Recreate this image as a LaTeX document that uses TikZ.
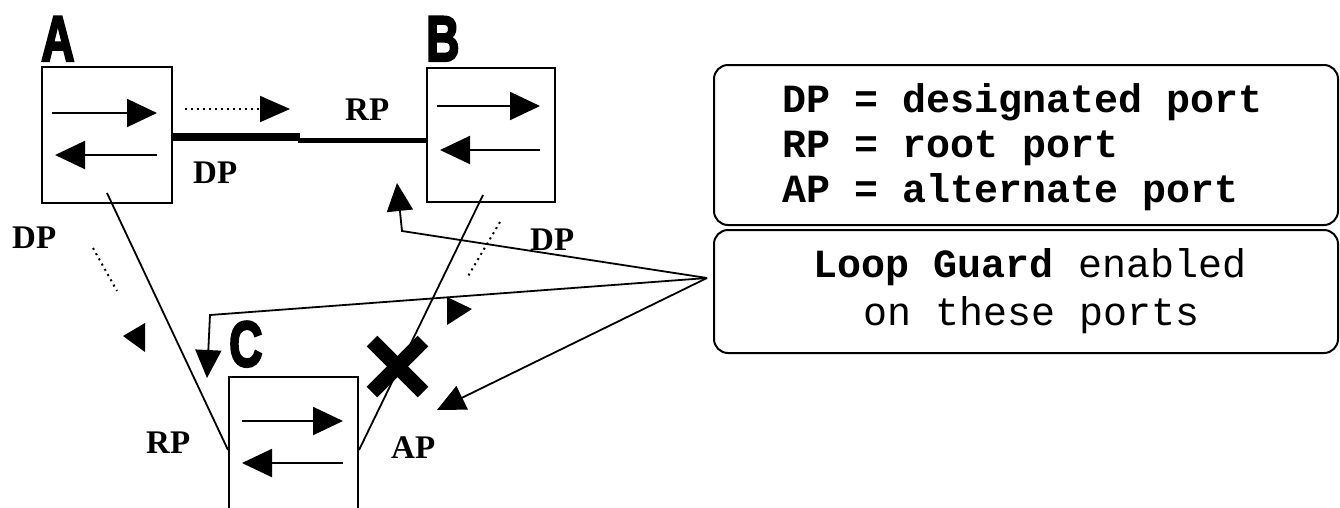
\documentclass[tikz,border=0pt]{standalone}
\usepackage{fontspec}
\setmainfont{Liberation Serif}
\newfontfamily\legmono{Liberation Mono}
\newfontface\bigletter{Liberation Sans Bold}[FakeBold=4]
\usetikzlibrary{arrows.meta,calc}
\tikzset{
  swbox/.style={draw, line width=2pt, inner sep=0pt},
  inarrow/.style={line width=2pt, -{Triangle[length=30pt,width=28pt]}},
  conn/.style={line width=1.8pt},
  conntip/.style={line width=1.8pt, -{Triangle[length=28pt,width=26pt]}},
  dotline/.style={line width=2pt, dash pattern=on 2pt off 4pt},
  portlbl/.style={font=\bfseries\fontsize{33}{33}\selectfont, inner sep=0pt, anchor=base west},
  swlbl/.style={font=\bigletter\fontsize{64}{64}\selectfont, inner sep=0pt, anchor=south west},
  legbox/.style={draw, line width=2pt, rounded corners=14pt},
  legtext/.style={font=\legmono\bfseries\fontsize{40}{40}\selectfont, inner sep=0pt},
  xmark/.style={line width=15pt, line cap=butt}
}
\begin{document}
\begin{tikzpicture}[x=1pt,y=-1pt]
\useasboundingbox (0,0) rectangle (1340,507);
\clip (0,0) rectangle (1340,507);
\fill[white] (0,0) rectangle (1340,507);

% switches
\node[swbox, minimum width=130pt, minimum height=136pt] (A) at (107,135) {};
\node[swbox, minimum width=128pt, minimum height=134pt] (B) at (491,135) {};
\node[swbox, minimum width=129pt, minimum height=156pt] (C) at (293.5,455) {};

\node[swlbl] (lA) at (41,61) {\scalebox{0.72}[1]{A}};
\node[swlbl] (lB) at (426,61) {\scalebox{0.72}[1]{B}};
\node[swlbl] (lC) at (229,367) {\scalebox{0.72}[1]{C}};

% arrows inside switches
\draw[inarrow] (52,113) -- (157,113);
\draw[inarrow] (157,155) -- (55,155);
\draw[inarrow] (437,106) -- (540,106);
\draw[inarrow] (540,150) -- (440,150);
\draw[inarrow] (242,421) -- (343,421);
\draw[inarrow] (343,463) -- (242,463);

% named port points
\coordinate (aE) at ($(A.east)+(0,2)$);
\coordinate (mid1) at (300,137);
\coordinate (mid2) at (298,140);
\coordinate (bW) at ($(B.west)+(0,5)$);
\coordinate (aS) at (107,193);
\coordinate (cW) at ($(C.west)+(0,-5)$);
\coordinate (bS) at (483,195);
\coordinate (cE) at ($(C.east)+(0,-5)$);

% links
\draw[line width=8pt] (aE) -- (mid1);
\draw[line width=5pt] (mid2) -- (bW);
\draw[conn] (aS) -- (cW);
\draw[conn] (bS) -- (cE);

% big X on the blocked link
\coordinate (x1) at (372,341);
\coordinate (x2) at (423,392);
\coordinate (x3) at (423,341);
\coordinate (x4) at (372,392);
\draw[xmark] (x1) -- (x2);
\draw[xmark] (x3) -- (x4);

% dotted BPDU arrows
\coordinate (d1s) at (185,109);
\coordinate (d1e) at (290,109);
\draw[dotline, -{Triangle[length=30pt,width=26pt]}] (d1s) -- (d1e);
\coordinate (d2s) at (93,248);
\coordinate (d2e) at (117,291);
\draw[dotline] (d2s) -- (d2e);
\fill (123,336) -- (145,323) -- (145,352) -- cycle;
\coordinate (d3s) at (500,222);
\coordinate (d3e) at (467,278);
\draw[dotline] (d3s) -- (d3e);
\fill (447,297) -- (472,309) -- (447,325) -- cycle;

% port labels
\node[portlbl] (p1) at (193,183) {DP};
\node[portlbl] (p2) at (345,120) {RP};
\node[portlbl] (p3) at (12,248) {DP};
\node[portlbl] (p4) at (530,250) {DP};
\node[portlbl] (p5) at (146,453) {RP};
\node[portlbl] (p6) at (391,458) {AP};

% legend boxes
\node[legbox, minimum width=624pt, minimum height=160pt] (legend) at (1026,145) {};
\node[legbox, minimum width=624pt, minimum height=123pt] (guard) at (1026,291.5) {};
\node[legtext, anchor=base west] (t1) at (782,112) {DP = designated port};
\node[legtext, anchor=base west] (t2) at (782,157) {RP = root port};
\node[legtext, anchor=base west] (t3) at (782,202) {AP = alternate port};
\node[legtext, anchor=base] (t4) at (1030,277) {Loop Guard \mdseries enabled};
\node[legtext, anchor=base, font=\legmono\fontsize{40}{40}\selectfont] (t5) at (1032,325) {on these ports};

% loop guard pointers
\coordinate (lg) at ($(guard.west)+(-6,-13.5)$);
\coordinate (k1) at (402,231);
\coordinate (k2) at (397,183);
\coordinate (k3) at (210,315);
\coordinate (k4) at (207,378);
\coordinate (k5) at (437,410);
\draw[conntip] (lg) -- (k1) -- (k2);
\draw[conntip] (lg) -- (k3) -- (k4);
\draw[conntip] (lg) -- (k5);
\end{tikzpicture}
\end{document}
